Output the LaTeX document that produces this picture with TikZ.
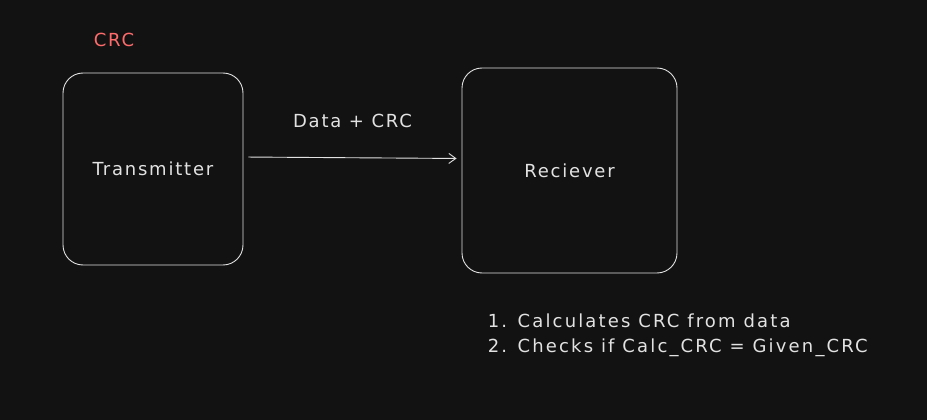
\documentclass[tikz,border=0pt]{standalone}
\usepackage{fontspec}
\setmainfont[LetterSpace=10]{DejaVu Sans}
\newfontfamily\listfont[LetterSpace=12]{DejaVu Sans}
\usetikzlibrary{arrows.meta}

\definecolor{bgdark}{HTML}{121212}
\definecolor{inkgrey}{HTML}{E2E2E2}
\definecolor{crcred}{HTML}{FF6B6B}

\begin{document}
\begin{tikzpicture}[x=1pt,y=-1pt,>={Straight Barb[length=7pt,width=10pt]},line width=0.9pt,
    font=\fontsize{18}{25}\selectfont, text=inkgrey]

    \tikzstyle{every block}=[draw=inkgrey,rounded corners=20pt,fill=bgdark]
    \tikzset{block/.style={every block}}

    \fill[bgdark] (0,0) rectangle (927,420);
    \useasboundingbox (0,0) rectangle (927,420);

    \node[text=crcred]  (title) at (114,40)  {CRC};
    \node[block, minimum width=180pt, minimum height=192pt] (tx) at (153,169)   {Transmitter};
    \node[block, minimum width=215pt, minimum height=205pt] (rx) at (569.5,170.5) {Reciever};
    \node[anchor=north west, align=left, font=\listfont\fontsize{18}{25}\selectfont] (steps) at (484,310)
        {1. Calculates CRC from data\\2. Checks if Calc\_CRC = Given\_CRC};

    \draw[->, draw=inkgrey, shorten <=5pt, shorten >=5pt]
        ([yshift=12pt]tx.east) -- node[above=26pt] (lbl) {Data + CRC} ([yshift=12pt]rx.west);
\end{tikzpicture}
\end{document}
